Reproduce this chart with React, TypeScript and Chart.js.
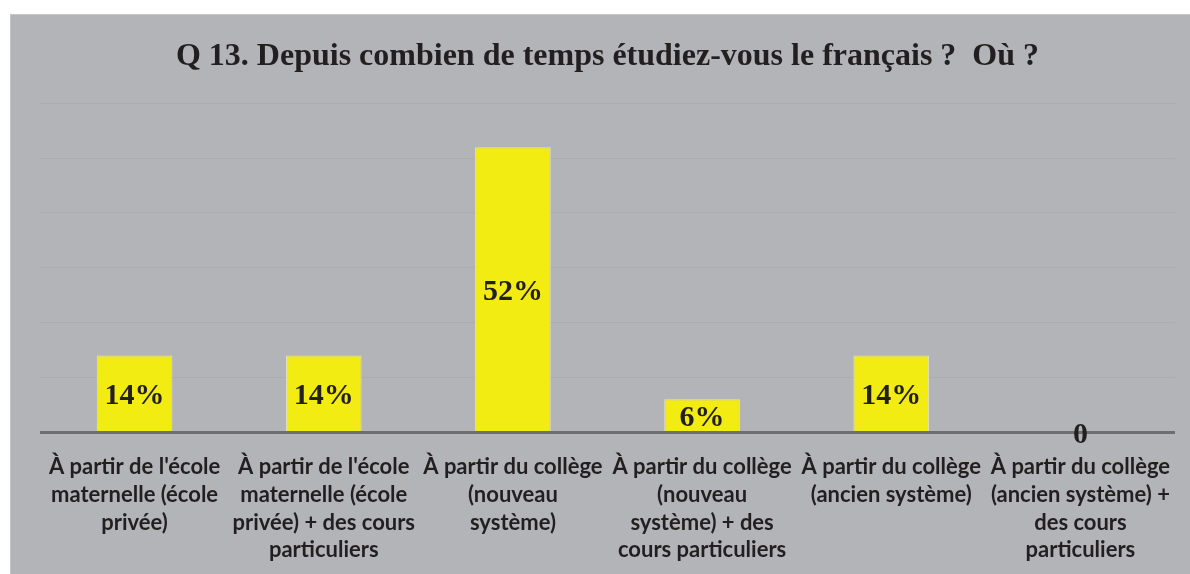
import React, { useEffect, useRef } from "react";
import { Chart, registerables } from "chart.js";

Chart.register(...registerables);

const categories: string[][] = [
  ["À partir de l'école", "maternelle (école", "privée)"],
  ["À partir de l'école", "maternelle (école", "privée) + des cours", "particuliers"],
  ["À partir du collège", "(nouveau", "système)"],
  ["À partir du collège", "(nouveau", "système) + des", "cours particuliers"],
  ["À partir du collège", "(ancien système)"],
  ["À partir du collège", "(ancien système) +", "des cours", "particuliers"],
];
const values: number[] = [14, 14, 52, 6, 14, 0];
const valueLabels: string[] = ["14%", "14%", "52%", "6%", "14%", "0"];
const titleText = "Q 13. Depuis combien de temps étudiez-vous le français ?  Où ?";

const bgPlugin = {
  id: "bgPlugin",
  beforeDraw(chart: any) {
    const { ctx, width, height } = chart;
    ctx.save();
    ctx.fillStyle = "#ffffff";
    ctx.fillRect(0, 0, width, height);
    ctx.fillStyle = "#c4c5c8";
    ctx.fillRect(10, 14, width - 10, height - 14);
    ctx.fillStyle = "#b3b4b8";
    ctx.fillRect(11, 15, width - 11, height - 15);
    ctx.restore();
  },
};

const overlayPlugin = {
  id: "overlayPlugin",
  afterDatasetsDraw(chart: any) {
    const { ctx, chartArea } = chart;
    const y0 = chart.scales.y.getPixelForValue(0);
    ctx.save();
    ctx.strokeStyle = "#6d6e71";
    ctx.lineWidth = 3;
    ctx.beginPath();
    ctx.moveTo(chartArea.left, y0 + 0.5);
    ctx.lineTo(chartArea.right, y0 + 0.5);
    ctx.stroke();
    const meta = chart.getDatasetMeta(0);
    ctx.fillStyle = "#231f20";
    ctx.font = "bold 30px 'Liberation Serif', serif";
    ctx.textAlign = "center";
    ctx.textBaseline = "middle";
    meta.data.forEach((el: any, i: number) => {
      const cy = (el.y + el.base) / 2 + 3;
      ctx.fillText(valueLabels[i], el.x, cy);
    });
    ctx.restore();
  },
};

export default function App() {
  const ref = useRef<HTMLCanvasElement | null>(null);
  useEffect(() => {
    document.body.style.margin = "0";
    if (!ref.current) return;
    const chart = new Chart(ref.current, {
      type: "bar",
      data: {
        labels: categories,
        datasets: [
          {
            data: values,
            backgroundColor: "#f3ec12",
            borderColor: "#e2e2c8",
            borderWidth: 1,
            barPercentage: 0.4,
            categoryPercentage: 1,
          },
        ],
      },
      options: {
        responsive: false,
        animation: false,
        layout: { padding: { left: 40, right: 15, top: 24, bottom: 0 } },
        plugins: {
          legend: { display: false },
          tooltip: { enabled: false },
          title: {
            display: true,
            text: titleText,
            color: "#231f20",
            font: { family: "'Liberation Serif', serif", size: 32, weight: "bold" },
            padding: { top: 14, bottom: 27 },
          },
        },
        scales: {
          x: {
            grid: { display: false, drawTicks: false },
            border: { display: false },
            ticks: {
              color: "#231f20",
              font: { family: "Lato", size: 22, weight: "bold", lineHeight: 1.26 },
              padding: 21,
              maxRotation: 0,
              autoSkip: false,
            },
            afterFit(scale: any) {
              scale.height = scale.height - 11;
              scale.paddingLeft = 0;
              scale.paddingRight = 0;
            },
          },
          y: {
            min: 0,
            max: 60,
            ticks: { display: false, stepSize: 10 },
            grid: { color: "#abacb0", lineWidth: 1, drawTicks: false },
            border: { display: false },
            afterFit(scale: any) {
              scale.width = 0;
            },
          },
        },
      },
      plugins: [bgPlugin, overlayPlugin],
    });
    return () => chart.destroy();
  }, []);
  return <canvas ref={ref} width={1190} height={574} style={{ display: "block" }} />;
}
